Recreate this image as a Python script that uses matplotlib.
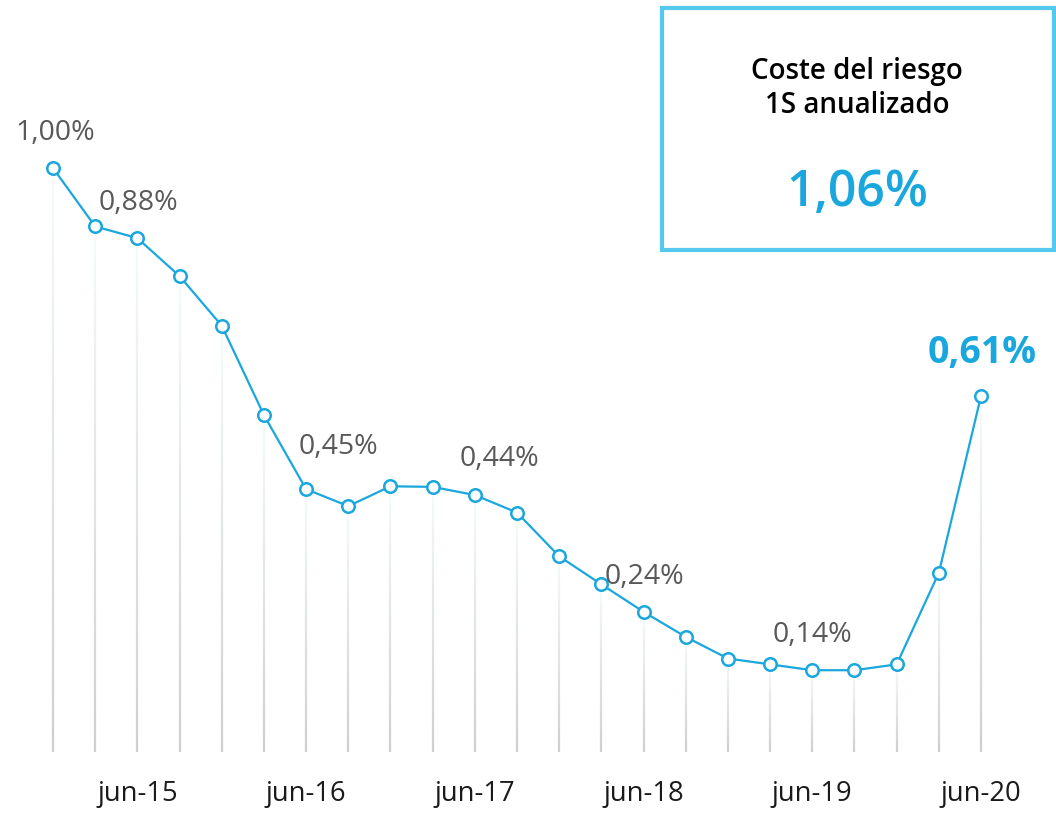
import numpy as np
import matplotlib.pyplot as plt
from matplotlib.collections import LineCollection
from matplotlib.colors import to_rgb
from matplotlib.patches import Rectangle

plt.rcParams['font.family'] = ['Open Sans', 'DejaVu Sans']

# quarterly periods, dic-14 .. jun-20
periods = ["dic-14", "mar-15", "jun-15", "sep-15", "dic-15", "mar-16", "jun-16",
           "sep-16", "dic-16", "mar-17", "jun-17", "sep-17", "dic-17", "mar-18",
           "jun-18", "sep-18", "dic-18", "mar-19", "jun-19", "sep-19", "dic-19",
           "mar-20", "jun-20"]
cost_of_risk = [1.00, 0.90, 0.88, 0.815, 0.73, 0.577, 0.45, 0.421, 0.455, 0.454,
                0.44, 0.41, 0.335, 0.287, 0.24, 0.197, 0.16, 0.15, 0.14, 0.14,
                0.15, 0.307, 0.61]
labelled = ["dic-14", "jun-15", "jun-16", "jun-17", "jun-18", "jun-19", "jun-20"]
box_title = "Coste del riesgo\n1S anualizado"
box_value = "1,06%"

BLUE = "#1aa7dd"
BOX_BLUE = "#55c8ee"
GREY_TXT = "#595959"

# label offsets in pixels (dx, dy) for each labelled period
label_offsets = {"dic-14": (2, 35), "jun-15": (1, 35), "jun-16": (32, 42),
                 "jun-17": (25, 36), "jun-18": (1, 35), "jun-19": (0, 35),
                 "jun-20": (1, 43)}

x = np.arange(len(periods))
y = np.array(cost_of_risk)

fig = plt.figure(figsize=(10.56, 8.14), dpi=100)
ax = fig.add_axes([0.0302, 0.0762, 0.9188, 0.7891])

# faded drop lines from each point to zero
top_c = np.array(to_rgb("#f5fafc"))
bot_c = np.array(to_rgb("#cfcfcf"))
n = 40
for xi, yi in zip(x, y):
    ys = np.linspace(yi, 0, n + 1)
    segs = [[(xi, ys[k]), (xi, ys[k + 1])] for k in range(n)]
    t = np.linspace(0, 1, n)[:, None]
    cols = top_c * (1 - t) + bot_c * t
    ax.add_collection(LineCollection(segs, colors=cols, linewidths=1.6, zorder=1))

ax.plot(x, y, color=BLUE, lw=1.6, zorder=2)
ax.plot(x, y, 'o', ms=9, mfc='white', mec=BLUE, mew=1.8, zorder=3)

for p in labelled:
    i = periods.index(p)
    txt = f"{cost_of_risk[i]:.2f}%".replace(".", ",")
    last = p == periods[-1]
    ax.annotate(txt, (x[i], y[i]), xytext=label_offsets[p], textcoords='offset pixels',
                ha='center', va='center',
                fontsize=27 if last else 20.5,
                fontweight='bold' if last else 'normal',
                color=BLUE if last else GREY_TXT, zorder=4)

ax.set_xlim(-0.5, len(periods) - 0.5)
ax.set_ylim(0, 1.1)
ax.set_xticks([i for i, p in enumerate(periods) if p.startswith("jun")])
ax.set_xticklabels([p for p in periods if p.startswith("jun")], fontsize=19.7, color="#1a1a1a")
ax.tick_params(axis='x', length=0, pad=20)
ax.set_yticks([])
for s in ax.spines.values():
    s.set_visible(False)

# summary box
fig.patches.append(Rectangle((0.627, 0.6929), 0.371, 0.2973, transform=fig.transFigure,
                             fill=False, edgecolor=BOX_BLUE, lw=3))
fig.text(0.8116, 0.8913, box_title, ha='center', va='center', fontsize=20,
         fontweight='semibold', color='black', linespacing=1.2)
fig.text(0.8116, 0.7629, box_value, ha='center', va='center', fontsize=36,
         fontweight='semibold', color=BLUE)

fig.savefig("out.png", dpi=100)
